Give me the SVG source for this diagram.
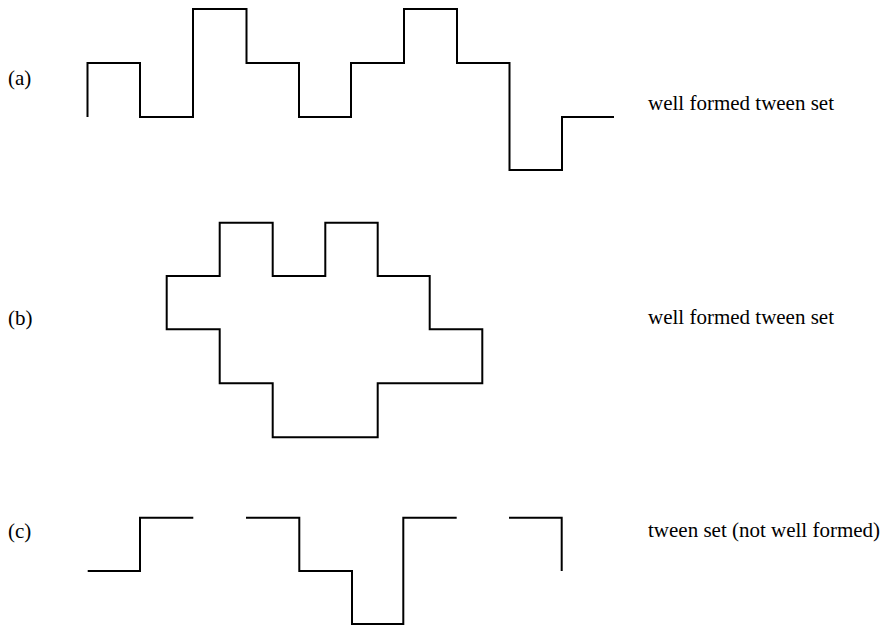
<svg xmlns="http://www.w3.org/2000/svg" width="883" height="627" viewBox="0 0 883 627">
<style>
.w{fill:none;stroke:#000;stroke-width:2;stroke-linejoin:miter;stroke-linecap:butt}
text{font-family:"Liberation Serif","Times New Roman",serif;font-size:21px;fill:#000}
</style>
<rect width="883" height="627" fill="#fff"/>
<g id="row-a">
<text x="8" y="85">(a)</text>
<path class="w" d="M87.5 117 V63 H140 V117 H193 V9 H246.5 V63 H299 V117 H351 V63 H404 V9 H457 V63 H509.5 V170 H562 V117 H614"/>
<text x="648" y="110">well formed tween set</text>
</g>
<g id="row-b">
<text x="8" y="325">(b)</text>
<path class="w" d="M166.7 276 H219.7 V222.7 H272.7 V276 H325.3 V222.7 H377.7 V276 H429.7 V329.3 H482.3 V383.3 H377.7 V437.3 H272.7 V383.3 H219.7 V329.3 H166.7 Z"/>
<text x="648" y="324">well formed tween set</text>
</g>
<g id="row-c">
<text x="8" y="538">(c)</text>
<path class="w" d="M87.7 571 H140 V517.7 H193.3"/>
<path class="w" d="M246 517.7 H299.3 V571 H352 V624 H403.3 V517.7 H456.7"/>
<path class="w" d="M509 517.7 H561.7 V571"/>
<text x="648" y="537">tween set (not well formed)</text>
</g>
</svg>
